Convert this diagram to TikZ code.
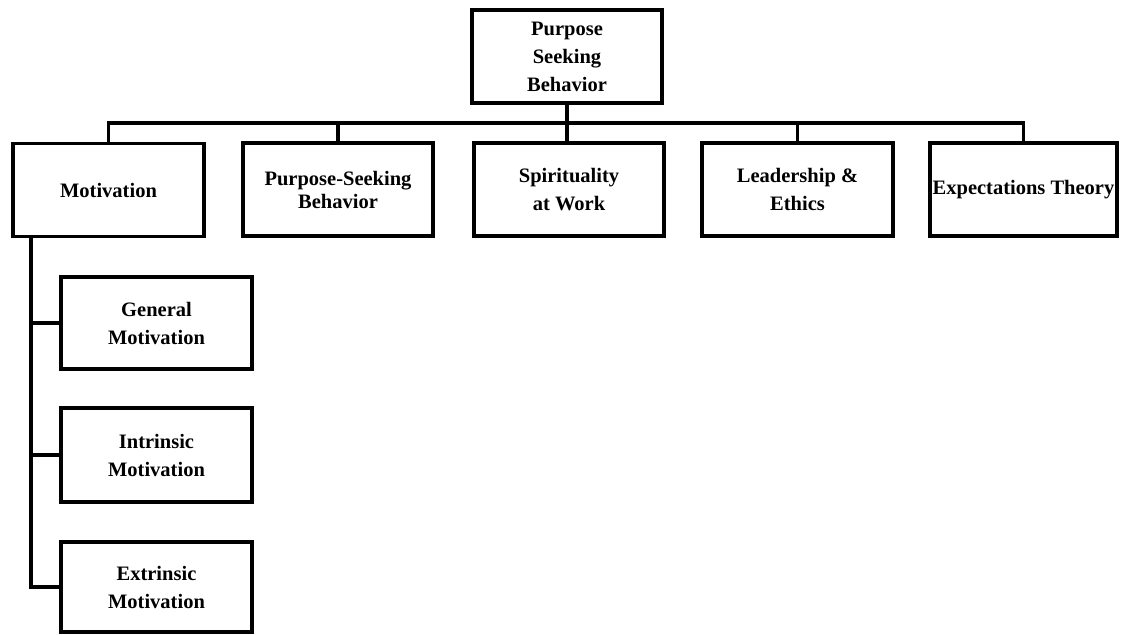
\documentclass[tikz,border=0pt]{standalone}
\usepackage{fontspec}
\setmainfont{Liberation Serif}
\begin{document}
\begin{tikzpicture}[x=0.5pt,y=-0.5pt,
  box/.style={draw,line width=1.8pt,rectangle,inner sep=0pt,align=center,
    font=\fontsize{10.25pt}{14pt}\selectfont\bfseries,
    minimum width=95.5pt,minimum height=46.5pt},
  conn/.style={line width=1.8pt}]
\useasboundingbox (0,0) rectangle (1134,634);
\node[box,minimum width=95pt] (top) at (567,56.5) {Purpose\\Seeking\\Behavior};
\node[box] (mot) at (108.5,190) {Motivation};
\node[box,minimum width=95pt,font=\fontsize{10.25pt}{11.5pt}\selectfont\bfseries] (psb) at (338,189.5) {Purpose-Seeking\\Behavior};
\node[box,minimum width=95pt] (spi) at (569,189.5) {Spirituality\\at Work};
\node[box] (lea) at (797.5,189.5) {Leadership \&\\Ethics};
\node[box,minimum width=93.5pt] (exp) at (1023.5,189.5) {Expectations Theory};
\node[box,minimum height=46pt] (gen) at (156.5,323) {General\\Motivation};
\node[box,minimum height=47pt] (int) at (156.5,455) {Intrinsic\\Motivation};
\node[box,minimum height=45pt] (ext) at (156.5,587) {Extrinsic\\Motivation};
\coordinate (bl) at (108.5,123);
\coordinate (br) at (1023.5,123);
\draw[conn] (mot.north) -- (bl) -- (br) -- (exp.north);
\draw[conn] (top.south) -- (top.south |- spi.north);
\draw[conn] (psb.north) -- (psb.north |- bl);
\draw[conn] (lea.north) -- (lea.north |- bl);
\coordinate (s0) at ([xshift=10pt]mot.south west);
\draw[conn] (s0) -- (s0 |- ext.west) -- (ext.west);
\draw[conn] (s0 |- gen.west) -- (gen.west);
\draw[conn] (s0 |- int.west) -- (int.west);
\end{tikzpicture}
\end{document}
